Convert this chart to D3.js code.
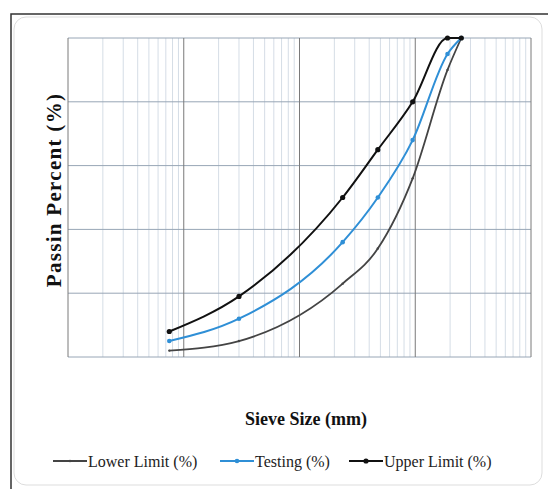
<!DOCTYPE html>
<html>
<head>
<meta charset="utf-8">
<script src="https://cdn.jsdelivr.net/npm/d3@7"></script>
<style>
  body { margin: 0; background: #fff; }
  svg { display: block; }
</style>
</head>
<body>
<div id="chart"></div>
<script>
// sieve sizes (mm) and passing percentages
const sieves = [0.075, 0.3, 2.36, 4.75, 9.5, 19, 25];
const lowerLimit = [2, 5, 23, 34, 56, 90, 100];
const testing = [5, 12, 36, 50, 68, 95, 100];
const upperLimit = [8, 19, 50, 65, 80, 100, 100];
const yTicks = [0, 20, 40, 60, 80, 100];

const series = [
  { name: "Lower Limit (%)", values: lowerLimit, color: "#444", r: 1.2, width: 1.8 },
  { name: "Testing (%)", values: testing, color: "#2f8fd6", r: 2.3, width: 2 },
  { name: "Upper Limit (%)", values: upperLimit, color: "#111", r: 2.6, width: 2 }
];

const W = 548, H = 489;
const svg = d3.select("#chart").append("svg")
  .attr("width", W)
  .attr("height", H);

// frame
svg.append("rect")
  .attr("x", 14).attr("y", 17)
  .attr("width", 528).attr("height", 468)
  .attr("rx", 12)
  .style("fill", "none")
  .style("stroke", "#ddd");
svg.append("path")
  .attr("d", "M11,489 V14 H548")
  .style("fill", "none")
  .style("stroke", "#333")
  .style("stroke-width", 1.5);

const x = d3.scaleLog().domain([0.01, 100]).range([68, 531]);
const y = d3.scaleLinear().domain([0, 100]).range([357, 38]);

// minor vertical grid
const minor = [];
[0.01, 0.1, 1, 10].forEach(d => { for (let k = 2; k <= 9; k++) minor.push(d * k); });
svg.append("g").selectAll("line")
  .data(minor)
  .enter()
  .append("line")
  .attr("x1", d => x(d)).attr("x2", d => x(d))
  .attr("y1", y(0)).attr("y2", y(100))
  .style("stroke", "#d5dde6")
  .style("stroke-width", 1);

// horizontal grid
svg.append("g").selectAll("line")
  .data(yTicks)
  .enter()
  .append("line")
  .attr("x1", x(0.01)).attr("x2", x(100))
  .attr("y1", d => y(d)).attr("y2", d => y(d))
  .style("stroke", "#98a6b6")
  .style("stroke-width", 1);

// major vertical grid
svg.append("g").selectAll("line")
  .data([0.01, 0.1, 1, 10, 100])
  .enter()
  .append("line")
  .attr("x1", d => x(d)).attr("x2", d => x(d))
  .attr("y1", y(0)).attr("y2", y(100))
  .style("stroke", "#7a7a7a")
  .style("stroke-width", 1);

const line = d3.line()
  .x((d, i) => x(sieves[i]))
  .y(d => y(d))
  .curve(d3.curveMonotoneX);

series.forEach(s => {
  svg.append("path")
    .datum(s.values)
    .attr("d", line)
    .style("fill", "none")
    .style("stroke", s.color)
    .style("stroke-width", s.width);
  svg.append("g").selectAll("circle")
    .data(s.values)
    .enter()
    .append("circle")
    .attr("cx", (d, i) => x(sieves[i]))
    .attr("cy", d => y(d))
    .attr("r", s.r)
    .style("fill", s.color);
});

// axis titles
svg.append("text")
  .attr("x", 306).attr("y", 425)
  .attr("text-anchor", "middle")
  .style("font-family", "Liberation Serif, serif")
  .style("font-weight", "bold")
  .style("font-size", "18px")
  .style("fill", "#111")
  .text("Sieve Size (mm)");

svg.append("text")
  .attr("transform", "translate(61,190) rotate(-90)")
  .attr("text-anchor", "middle")
  .style("font-family", "Liberation Serif, serif")
  .style("font-weight", "bold")
  .style("font-size", "21px")
  .style("letter-spacing", "1.3px")
  .style("fill", "#111")
  .text("Passin Percent (%)");

// legend
const legendX = [53, 220, 349];
const legend = svg.append("g").selectAll("g")
  .data(series)
  .enter()
  .append("g")
  .attr("transform", (d, i) => "translate(" + legendX[i] + ",461)");
legend.append("line")
  .attr("x1", 0).attr("x2", 34)
  .style("stroke", d => d.color)
  .style("stroke-width", d => d.width);
legend.append("circle")
  .attr("cx", 17)
  .attr("r", d => d.r)
  .style("fill", d => d.color);
legend.append("text")
  .attr("x", 35).attr("y", 5.5)
  .style("font-family", "Liberation Serif, serif")
  .style("font-size", "16px")
  .style("fill", "#222")
  .text(d => d.name);
</script>
</body>
</html>
